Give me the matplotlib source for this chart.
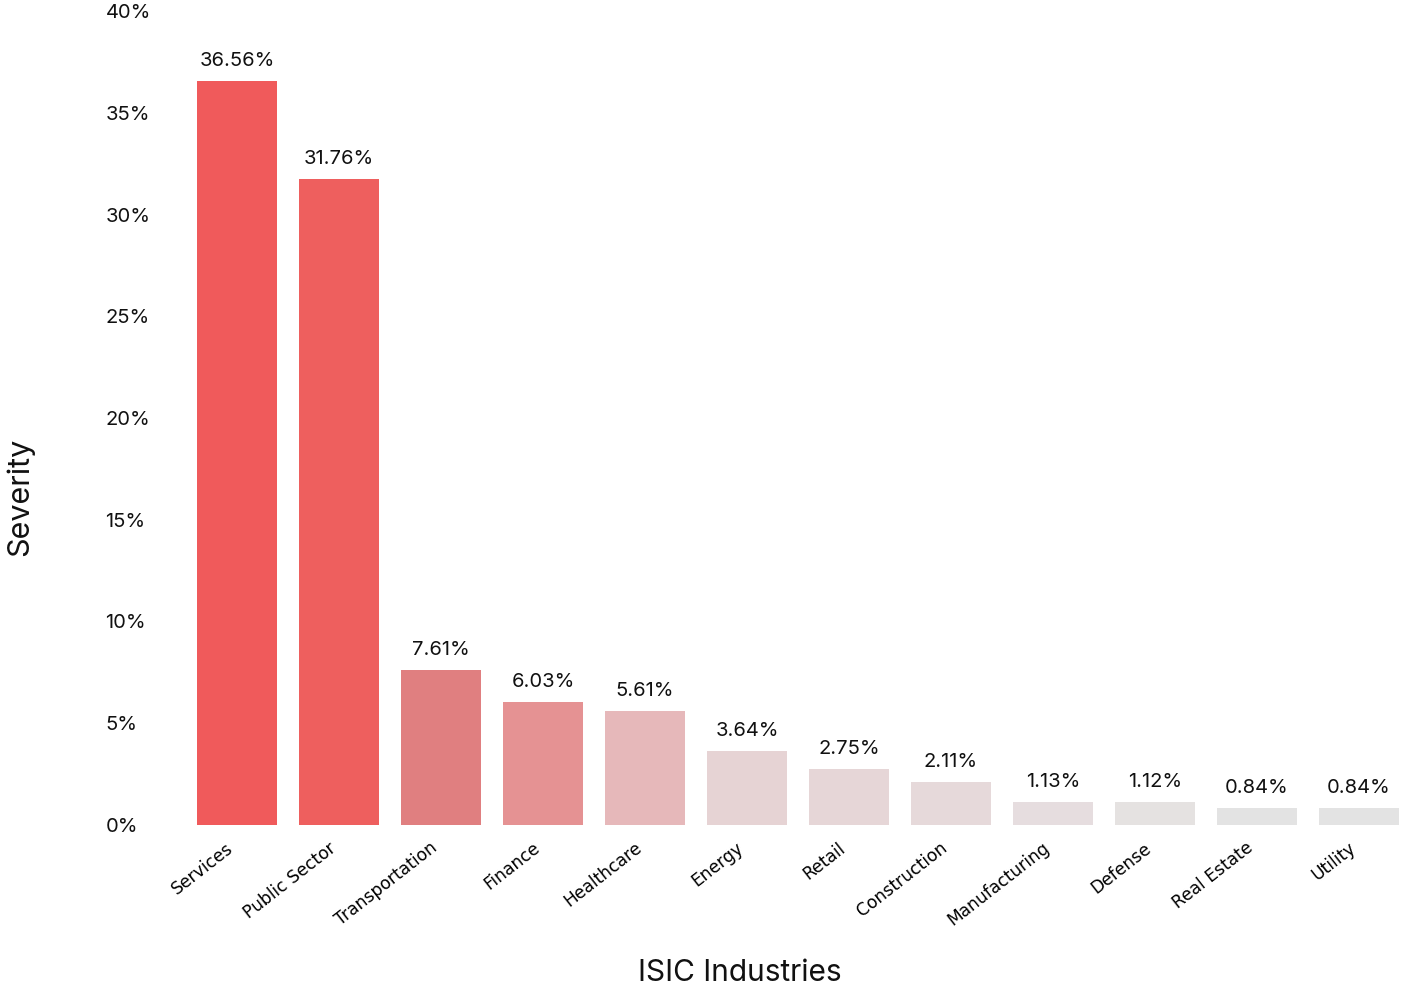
import matplotlib
matplotlib.use("Agg")
import matplotlib.pyplot as plt
from matplotlib.ticker import FuncFormatter, MultipleLocator

industries = ["Services", "Public Sector", "Transportation", "Finance", "Healthcare",
              "Energy", "Retail", "Construction", "Manufacturing", "Defense",
              "Real Estate", "Utility"]
severity = [36.56, 31.76, 7.61, 6.03, 5.61, 3.64, 2.75, 2.11, 1.13, 1.12, 0.84, 0.84]
bar_colors = ["#F05A5B", "#EE5F5E", "#E07F80", "#E59293", "#E6B8BA", "#E6D3D4",
              "#E6D6D7", "#E6D9DA", "#E6DDDF", "#E5E2E1", "#E3E3E3", "#E3E3E3"]

main_font = "Inter"

fig = plt.figure(figsize=(14.1, 9.9), dpi=100)
ax = fig.add_axes([186 / 1410, 165 / 990, 1 - 186 / 1410, (825 - 11) / 990])

x = list(range(len(industries)))
ax.bar(x, severity, width=0.78, color=bar_colors)

for xi, val in zip(x, severity):
    ax.annotate(f"{val:.2f}%", (xi, val), xytext=(0, 8), textcoords="offset points",
                ha="center", va="bottom", fontsize=14.5, family=main_font, color="#111111")

ax.set_xlim(-0.5, len(industries) - 0.5)
ax.set_ylim(0, 40)
ax.yaxis.set_major_locator(MultipleLocator(5))
ax.yaxis.set_major_formatter(FuncFormatter(lambda v, _: f"{v:.0f}%"))
ax.tick_params(axis="y", length=0, pad=58, labelsize=14.5)
for lab in ax.get_yticklabels():
    lab.set_horizontalalignment("left")
    lab.set_family(main_font)
    lab.set_color("#111111")

ax.set_xticks(x)
ax.set_xticklabels(industries, rotation=38, ha="right", fontsize=12.3, family="DejaVu Sans")
ax.tick_params(axis="x", length=0, pad=10)

for side in ["top", "right", "left", "bottom"]:
    ax.spines[side].set_visible(False)

fig.text(20 / 1410, 1 - 497 / 990, "Severity", rotation=90, ha="center", va="center",
         fontsize=22, family=main_font, color="#111111")
fig.text(740 / 1410, 1 - 973 / 990, "ISIC Industries", ha="center", va="center",
         fontsize=21.5, family=main_font, color="#111111")

fig.savefig("out.png", dpi=100, facecolor="white")
